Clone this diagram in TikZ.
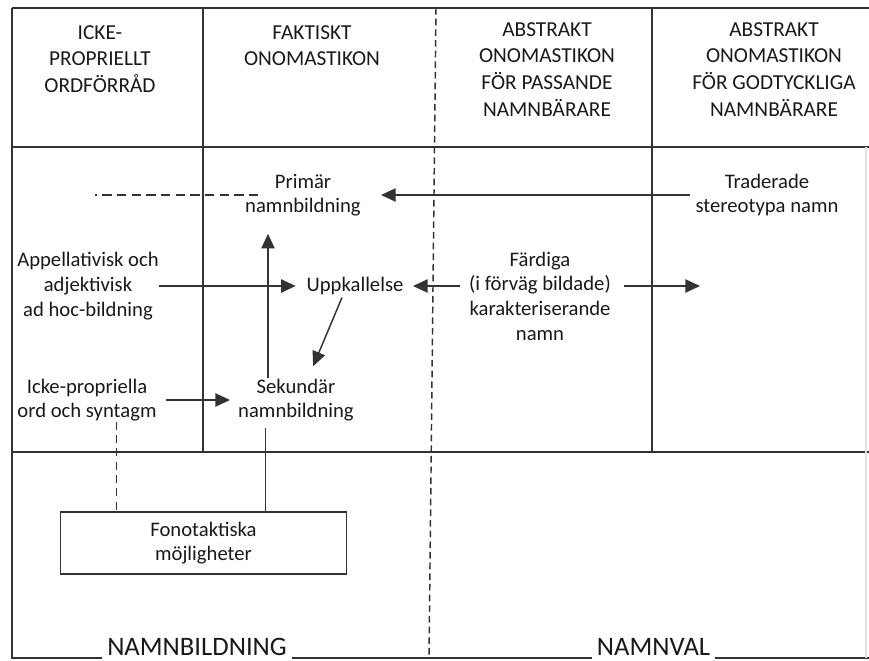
\documentclass[tikz,border=0pt]{standalone}
\usepackage{fontspec}
\setmainfont{Carlito}
\usepackage{tikz}
\usetikzlibrary{arrows.meta}

\begin{document}
\begin{tikzpicture}[x=0.75pt,y=-0.75pt]
		\useasboundingbox (0,0) rectangle (869,661);

		% frame of the table
		\begin{scope}[line width=1.1pt,draw=black!80]
			\draw (12,8) -- (869,8);
			\draw (12,147) -- (869,147);
			\draw (12,452) -- (869,452);
			\draw (12,8) -- (12,658) -- (869,658);
			\draw (203,8) -- (203,452);
			\draw (652,8) -- (652,452);
			\draw[dash pattern=on 5pt off 3pt] (436,8) -- (429,658);
			\draw[draw=black!12] (866,147) -- (866,658);
		\end{scope}

		% column heads
		\begin{scope}[every node/.style={align=center,inner sep=0pt,anchor=north,text=black!90,
				font=\fontsize{16}{20}\selectfont}]
			\node (hIcke) at (100,25) {ICKE-\\PROPRIELLT\\ORDFÖRRÅD};
			\node (hFakt) at (312,25) {FAKTISKT\\ONOMASTIKON};
			\node (hPass) at (547,22) {ABSTRAKT\\ONOMASTIKON\\FÖR PASSANDE\\NAMNBÄRARE};
			\node (hGodt) at (774,22) {ABSTRAKT\\ONOMASTIKON\\FÖR GODTYCKLIGA\\NAMNBÄRARE};
		\end{scope}

		% entries
		\begin{scope}[every node/.style={align=center,inner sep=0pt,text=black!90,
				font=\fontsize{15.5}{18.5}\selectfont}]
			\node (prim) at (303,195) {Primär\\namnbildning};
			\node (trad) at (767,195) {Traderade\\stereotypa namn};
			\node (app) at (88,286) {Appellativisk och\\adjektivisk\\ad hoc-bildning};
			\node (upp) at (355,286) {Uppkallelse};
			\node (fard) at (540,296) {Färdiga\\(i förväg bildade)\\karakteriserande\\namn};
			\node (sek) at (296,400) {Sekundär\\namnbildning};
			\node (icke) at (87,400) {Icke-propriella\\ord och syntagm};
			\node (fono) at (203.5,543) [draw=black!80,line width=0.9pt,minimum width=215pt,
				minimum height=46.5pt] {Fonotaktiska\\möjligheter};
		\end{scope}
		\coordinate (godt) at (700,286);
		\coordinate (ordf) at (95,195);

		% bottom labels
		\begin{scope}[every node/.style={fill=white,anchor=base,inner xsep=4pt,inner ysep=4pt,
				text=black!90,font=\fontsize{20}{24}\selectfont}]
			\node (nb) at (197,655) {NAMNBILDNING};
			\node (nv) at (653.5,655) {NAMNVAL};
		\end{scope}

		% connectors
		\begin{scope}[>={Triangle[length=11pt,width=10pt]},
			every edge/.style={draw=black!80,line width=1.1pt}]
			\path [->] (trad.west) edge[shorten <=4pt,shorten >=15pt] (prim.east);
			\path [->] (app.east) edge[shorten >=8pt] (upp.west);
			\path [->] (fard.west |- upp.east) edge[shorten <=7pt,shorten >=7pt] (upp.east);
			\path [->] (fard.east |- upp.east) edge[shorten <=10pt] (godt);
			\path [->] ([xshift=-9pt]upp.south) edge[shorten <=2pt,shorten >=10pt] ([xshift=9pt]sek.north);
			\path [->] ([xshift=-21pt]sek.north) edge[shorten >=13pt] ([xshift=-21pt]sek.north |- prim.south);
			\path [->] (icke.east) edge[shorten <=7pt,shorten >=6pt] (sek.west);
			\path ([xshift=-23pt]sek.south) edge[shorten <=5pt] ([xshift=-23pt]sek.south |- fono.north);
			\path ([xshift=22pt]icke.south) edge[dash pattern=on 6pt off 4pt,line width=0.9pt]
				([xshift=22pt]icke.south |- fono.north);
			\path ([xshift=10pt]prim.west) edge[dash pattern=on 7pt off 4pt,line width=0.9pt] (ordf);
		\end{scope}
	\end{tikzpicture}
\end{document}
